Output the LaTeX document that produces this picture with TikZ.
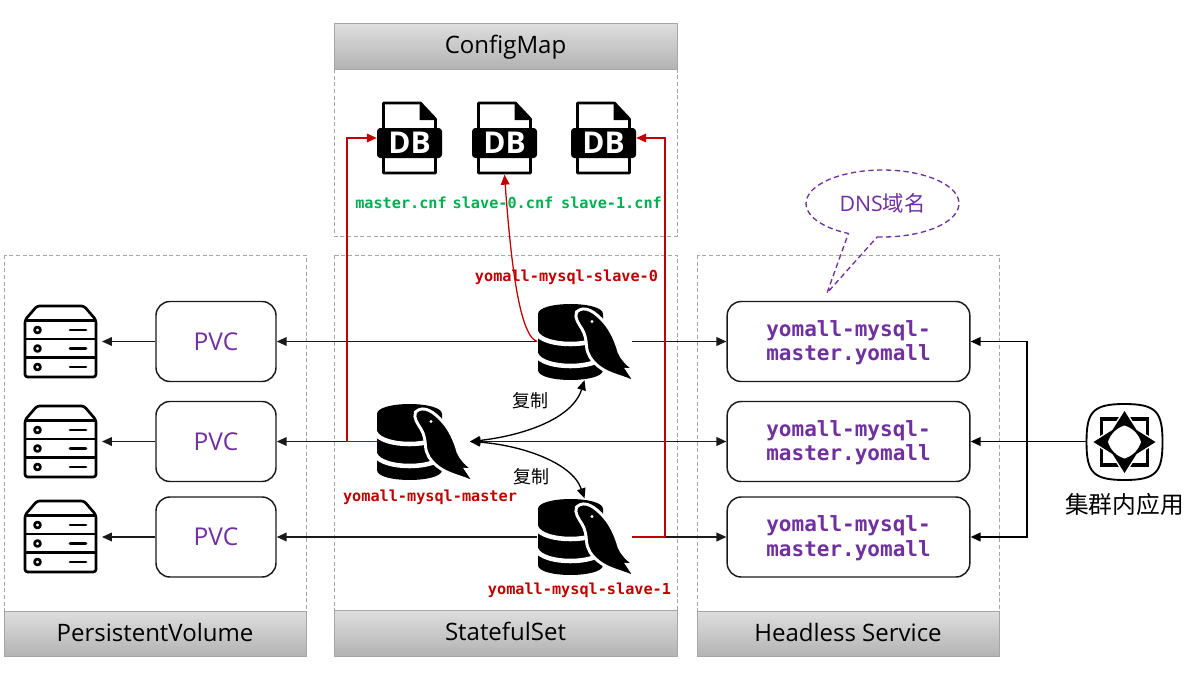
\documentclass[tikz,border=0pt]{standalone}
\usepackage{fontspec}
\setmainfont{Open Sans}
\newfontfamily\cjk{Noto Sans CJK SC}
\newfontfamily\monof{DejaVu Sans Mono}
\usetikzlibrary{arrows.meta}
\definecolor{cred}{HTML}{C00000}
\definecolor{cgreen}{HTML}{00B050}
\definecolor{cpurple}{HTML}{7030A0}
\definecolor{cdash}{HTML}{A6A6A6}
\definecolor{cline}{HTML}{1A1A1A}
\newcommand{\svctext}{\rule{0pt}{13.6pt}yomall-mysql-\\master.yomall}
\tikzset{
  panel/.style={draw=cdash,dash pattern=on 3pt off 2pt,line width=.6pt},
  header/.style={draw=cdash,line width=.7pt,top color=black!13,bottom color=black!30,minimum height=34.2pt,inner sep=0pt,text height=14.5pt,text depth=3.3pt,font=\fontsize{18}{20}\selectfont},
  rbox/.style={draw=cline,line width=1.1pt,rounded corners=10.5pt,fill=white,inner sep=0pt},
  pvcbox/.style={rbox,minimum width=90pt,minimum height=60pt,text=cpurple,font=\fontsize{18.4}{20}\selectfont},
  svcbox/.style={rbox,minimum width=182pt,minimum height=60pt,text=cpurple,align=center,font=\monof\bfseries\fontsize{15.75}{18.4}\selectfont},
  holder/.style={inner sep=0pt,outer sep=0pt},
  arr/.style={line width=1.25pt,draw=cline,-{Triangle[length=7.5pt,width=6.5pt]}},
  biarr/.style={line width=1.25pt,draw=cline,{Triangle[length=7.5pt,width=6.5pt]}-{Triangle[length=7.5pt,width=6.5pt]}},
  curvearr/.style={line width=1pt,draw=black,{Triangle[length=7.5pt,width=6.5pt]}-{Triangle[length=7.5pt,width=6.5pt]}},
  redarr/.style={line width=.95pt,draw=cred,-{Triangle[length=7.5pt,width=6.5pt]}},
  redlbl/.style={inner sep=0pt,text=cred,font=\monof\bfseries\fontsize{11.4}{13}\selectfont},
  grnlbl/.style={inner sep=0pt,text=cgreen,font=\monof\bfseries\fontsize{11.4}{13}\selectfont},
  cnlbl/.style={inner sep=0pt,font=\cjk\fontsize{13.5}{15}\selectfont},
}
% MySQL icon: local frame 92x76 px
\newcommand{\mysqlicon}[2]{%
\begin{scope}[shift={(#1,#2)}]
  \fill[black] (0,10) .. controls (0,-3.3) and (65,-3.3) .. (65,10) -- (65,66) .. controls (65,79.3) and (0,79.3) .. (0,66) -- cycle;
  \draw[white,line width=3.4pt] (-2,28) .. controls (4,44) and (61,44) .. (67,28);
  \draw[white,line width=3.4pt] (-2,50) .. controls (4,66) and (61,66) .. (67,50);
  \filldraw[fill=black,draw=white,line width=2.2pt,line join=miter,miter limit=6]
    (38.5,8) .. controls (47,0) and (58,9) .. (66,18)
    .. controls (73,26) and (78,37) .. (81,48)
    .. controls (84,55) and (89,60) .. (97,66)
    -- (89,65.5) -- (98,79)
    .. controls (84,72) and (71,71) .. (60,62)
    .. controls (53,56) and (49,50) .. (48.5,42)
    .. controls (48,35) and (47,30) .. (44,25)
    .. controls (41,20) and (36,14) .. (38.5,8) -- cycle;
  \fill[white] (54,17.5) circle (1.7);
\end{scope}}
% DB file icon: #1 = centre x
\newcommand{\dbicon}[2]{%
\begin{scope}[shift={(#1,102)}]
  \draw[black,line width=2pt,fill=white,line join=round] (-26,2) -- (-26,71) -- (26,71) -- (26,17) -- (11,1) -- (-26,1) -- cycle;
  \fill[black] (10,1) -- (27,18) -- (10,18) -- cycle;
  \fill[black,rounded corners=2.5pt] (-32.5,26) rectangle (32.5,56);
  \node[holder,text=white,font=\bfseries\fontsize{22.5}{24}\selectfont] (#2) at (0,40.5) {DB};
\end{scope}}
% server icon: #1 = top y
\newcommand{\servericon}[1]{%
\begin{scope}[shift={(24,#1)},line width=2pt,line join=round]
  \draw[black,rounded corners=2pt] (1,15) -- (13,1) -- (60,1) -- (72,15) -- (72,72) -- (1,72) -- cycle;
  \draw[black] (1,15.5) -- (72,15.5) (1,34) -- (72,34) (1,52.5) -- (72,52.5);
  \foreach \yy in {25,43.5,62}{
    \draw[black] (13.5,\yy) circle (3);
    \draw[black,line cap=round] (46,\yy) -- (62,\yy);
  }
\end{scope}}
\begin{document}
\begin{tikzpicture}[x=.75pt,y=-.75pt]
\useasboundingbox (0,0) rectangle (1187,678);
% panels
\draw[panel] (4,255) rectangle (306,611);
\draw[panel] (334,255) rectangle (677,611);
\draw[panel] (697,255) rectangle (999,611);
\draw[panel] (334,69) rectangle (677,236);
% headers
\node[header,minimum width=226.5pt] (hpv) at (155,634) {PersistentVolume};
\node[header,minimum width=257.2pt] (hss) at (505.5,633.5) {StatefulSet};
\node[header,minimum width=226.5pt] (hhs) at (848,634) {Headless Service};
\node[header,minimum width=257.2pt] (hcm) at (505.5,46.5) {ConfigMap};
% PVC boxes
\node[pvcbox] (pvc1) at (216,341.5) {PVC};
\node[pvcbox] (pvc2) at (216,441.5) {PVC};
\node[pvcbox] (pvc3) at (216,537) {PVC};
% service boxes
\node[svcbox] (svc1) at (848.5,341.5) {\svctext};
\node[svcbox] (svc2) at (848.5,441.5) {\svctext};
\node[svcbox] (svc3) at (848.5,537) {\svctext};
% servers
\servericon{305}\servericon{405}\servericon{500}
\node[holder,minimum width=62.2pt,minimum height=54pt] (srv1) at (60.5,341.5) {};
\node[holder,minimum width=62.2pt,minimum height=54pt] (srv2) at (60.5,441.5) {};
\node[holder,minimum width=62.2pt,minimum height=54pt] (srv3) at (60.5,537) {};
% MySQL anchors
\node[holder,minimum width=71.2pt,minimum height=58pt] (m0) at (584.5,341.5) {};
\node[holder,minimum width=69.8pt,minimum height=58pt] (m1) at (423.5,441.5) {};
\node[holder,minimum width=71.2pt,minimum height=58pt] (m2) at (584.5,537) {};
% file icons
\dbicon{409.5}{db0}\dbicon{504.5}{db1}\dbicon{603.5}{db2}
\node[holder,minimum width=49pt,minimum height=55pt] (f0) at (409.5,138) {};
\node[holder,minimum width=49pt,minimum height=55pt] (f1) at (504.5,138) {};
\node[holder,minimum width=49pt,minimum height=55pt] (f2) at (603.5,138) {};
% black connectors
\draw[arr] (pvc1.west) -- (srv1.east);
\draw[arr] (pvc2.west) -- (srv2.east);
\draw[arr] (pvc3.west) -- (srv3.east);
\draw[arr] (m0.west) -- (pvc1.east);
\draw[arr] (m1.west) -- (pvc2.east);
\draw[arr] (m2.west) -- (pvc3.east);
\draw[arr] (m0.east) -- (svc1.west);
\draw[arr] (m2.east) -- (svc3.west);
\draw[biarr] (m1.east) -- (svc2.west);
\draw[curvearr] (m1.east) .. controls (520,436) and (572,420) .. (m0.south);
\draw[curvearr] (m1.east) .. controls (520,445) and (572,462) .. (m2.north);
% cluster app
\node[holder,minimum width=58pt,minimum height=58pt] (app) at (1124.5,441.5) {};
\begin{scope}[shift={(1124.5,442)}]
  \draw[black,line width=1.4pt] (-38,0) .. controls (-38,-30) and (-32,-38) .. (0,-38) .. controls (32,-38) and (38,-30) .. (38,0) .. controls (38,30) and (32,38) .. (0,38) .. controls (-32,38) and (-38,30) .. (-38,0) -- cycle;
  \draw[black,line width=2.8pt] (-23,-23) rectangle (23,23);
  \path[fill=black,draw=white,line width=2.2pt,miter limit=2] (0,-31) -- (12,-12) -- (31,0) -- (12,12) -- (0,31) -- (-12,12) -- (-31,0) -- (-12,-12) -- cycle;
  \fill[black] (0,-31) -- (12,-12) -- (31,0) -- (12,12) -- (0,31) -- (-12,12) -- (-31,0) -- (-12,-12) -- cycle;
  \fill[white] (0,-16.5) .. controls (8,-14) and (14,-8) .. (16.5,0) .. controls (14,8) and (8,14) .. (0,16.5) .. controls (-8,14) and (-14,8) .. (-16.5,0) .. controls (-14,-8) and (-8,-14) .. (0,-16.5) -- cycle;
\end{scope}
\coordinate (bus) at (1027,441.5);
\draw[line width=1.3pt,draw=black] (app.west) -- (bus);
\draw[arr,draw=black] (bus) -- (svc2.east);
\draw[arr,draw=black] (bus) |- (svc1.east);
\draw[arr,draw=black] (bus) |- (svc3.east);
% red connectors
\draw[redarr] (m1.west) -- ++(-30,0) |- (f0.west);
\draw[redarr] (m2.east) -- ++(33,0) |- (f2.east);
\draw[redarr] (m0.west) .. controls (518,335) and (510,250) .. (f1.south);
% MySQL icons
\mysqlicon{538}{304}\mysqlicon{377}{404}\mysqlicon{538}{499}
% labels
\node[grnlbl] (l0) at (401,203) {master.cnf};
\node[grnlbl] (l1) at (503,203) {slave-0.cnf};
\node[grnlbl] (l2) at (611.5,203) {slave-1.cnf};
\node[redlbl] (r0) at (566.5,277) {yomall-mysql-slave-0};
\node[redlbl] (r1) at (430,497.5) {yomall-mysql-master};
\node[redlbl] (r2) at (579.5,590.5) {yomall-mysql-slave-1};
\node[cnlbl] (c1) at (530,401) {复制};
\node[cnlbl] (c2) at (531,477) {复制};
\node[inner sep=0pt,font=\cjk\fontsize{17.8}{20}\selectfont] (appl) at (1124.5,504) {集群内应用};
% callout
\draw[cpurple,line width=1pt,dash pattern=on 4pt off 2.6pt] plot[smooth,samples=60,domain=94:-243.5] ({882.5+76.5*cos(\x)},{203.5+33.5*sin(\x)}) -- (827,293) -- cycle;
\node[inner sep=0pt,text=cpurple,font=\fontsize{16}{18}\selectfont] (dns) at (882.5,203) {DNS{\cjk 域名}};
\end{tikzpicture}
\end{document}
